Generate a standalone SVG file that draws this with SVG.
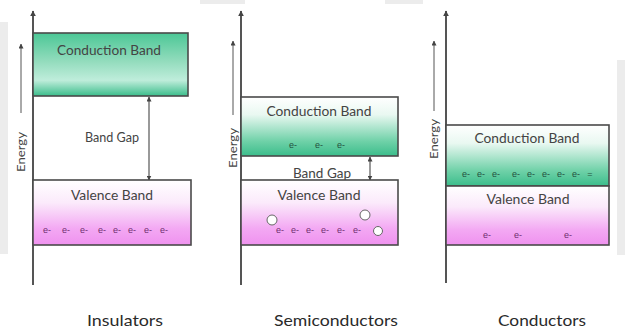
<svg xmlns="http://www.w3.org/2000/svg" width="625" height="331" viewBox="0 0 625 331">
<defs>
<linearGradient id="cb1" x1="0" y1="0" x2="0" y2="1">
<stop offset="0" stop-color="#4cc796"/>
<stop offset="0.45" stop-color="#93dcbd"/>
<stop offset="0.75" stop-color="#bfeddb"/>
<stop offset="1" stop-color="#3bbd8b"/>
</linearGradient>
<linearGradient id="cb" x1="0" y1="0" x2="0" y2="1">
<stop offset="0" stop-color="#ffffff"/>
<stop offset="0.3" stop-color="#e9f8f1"/>
<stop offset="0.75" stop-color="#6fd1a8"/>
<stop offset="1" stop-color="#3bbd8b"/>
</linearGradient>
<linearGradient id="vb" x1="0" y1="0" x2="0" y2="1">
<stop offset="0" stop-color="#ffffff"/>
<stop offset="0.35" stop-color="#fbeafb"/>
<stop offset="0.75" stop-color="#f3a8f3"/>
<stop offset="1" stop-color="#ef92ef"/>
</linearGradient>
<marker id="ah" viewBox="0 0 10 10" refX="9" refY="5" markerWidth="6" markerHeight="6" orient="auto-start-reverse" markerUnits="userSpaceOnUse">
<path d="M0,0 L10,5 L0,10 z" fill="#444"/>
</marker>
<marker id="ahs" viewBox="0 0 10 10" refX="9" refY="5" markerWidth="5" markerHeight="5" orient="auto-start-reverse" markerUnits="userSpaceOnUse">
<path d="M0,0 L10,5 L0,10 z" fill="#444"/>
</marker>
</defs>
<style>
.band{stroke:#4a4a4a;stroke-width:1.6}
.axis{stroke:#555;stroke-width:2;fill:none}
.earr{stroke:#555;stroke-width:1;fill:none}
.gap{stroke:#555;stroke-width:1.2;fill:none}
.lbl{font-family:Lato,"Open Sans","Liberation Sans",sans-serif;font-size:12.5px;fill:#444;text-anchor:middle}
.en{font-family:Lato,"Open Sans","Liberation Sans",sans-serif;font-size:12px;fill:#444;text-anchor:middle}
.title{font-family:Lato,"Open Sans","Liberation Sans",sans-serif;font-size:15px;fill:#2a2a2a;text-anchor:middle}
.ec{font-family:"Liberation Sans",sans-serif;font-size:9px;fill:#24503e;text-anchor:middle}
.ev{font-family:"Liberation Sans",sans-serif;font-size:9px;fill:#6e2f6e;text-anchor:middle}
.hole{fill:#fff;stroke:#666;stroke-width:1}
</style>
<rect width="625" height="331" fill="#ffffff"/>
<g id="watermark" fill="#ececec">
<rect x="0" y="22" width="8" height="232"/>
<rect x="617" y="60" width="8" height="195"/>
<rect x="200" y="0" width="45" height="4"/>
<rect x="385" y="0" width="38" height="4"/>
</g>
<g id="connectors">
<line class="axis" x1="33" y1="285" x2="33" y2="11" marker-end="url(#ah)"/>
<line class="axis" x1="241" y1="285" x2="241" y2="11" marker-end="url(#ah)"/>
<line class="axis" x1="446" y1="283" x2="446" y2="11" marker-end="url(#ah)"/>
<line class="earr" x1="21" y1="113" x2="21" y2="44" marker-end="url(#ahs)"/>
<line class="earr" x1="233" y1="115" x2="233" y2="41" marker-end="url(#ahs)"/>
<line class="earr" x1="434" y1="111" x2="434" y2="41" marker-end="url(#ahs)"/>
</g>
<g id="insulators">
<g id="ins-conduction">
<rect class="band" x="33" y="33" width="155" height="63" fill="url(#cb1)"/>
<text class="lbl" x="109" y="55" textLength="104" lengthAdjust="spacingAndGlyphs">Conduction Band</text>
</g>
<g id="ins-gap">
<line class="gap" x1="149" y1="97" x2="149" y2="180" marker-start="url(#ahs)" marker-end="url(#ahs)"/>
<text class="lbl" x="112" y="142" textLength="54" lengthAdjust="spacingAndGlyphs">Band Gap</text>
</g>
<g id="ins-valence">
<rect class="band" x="33" y="180" width="158" height="65" fill="url(#vb)"/>
<text class="lbl" x="112" y="200" textLength="82" lengthAdjust="spacingAndGlyphs">Valence Band</text>
<text class="ev" y="233"><tspan x="47">e-</tspan><tspan x="66">e-</tspan><tspan x="84">e-</tspan><tspan x="102">e-</tspan><tspan x="117">e-</tspan><tspan x="132">e-</tspan><tspan x="148">e-</tspan><tspan x="164">e-</tspan></text>
</g>
<text class="en" transform="translate(25,152) rotate(-90)" textLength="40" lengthAdjust="spacingAndGlyphs">Energy</text>
<text class="title" x="125" y="326" textLength="76" lengthAdjust="spacingAndGlyphs">Insulators</text>
</g>
<g id="semiconductors">
<g id="semi-conduction">
<rect class="band" x="241" y="97" width="157" height="59" fill="url(#cb)"/>
<text class="lbl" x="319" y="116" textLength="105" lengthAdjust="spacingAndGlyphs">Conduction Band</text>
<text class="ec" y="148"><tspan x="293">e-</tspan><tspan x="319">e-</tspan><tspan x="341">e-</tspan></text>
</g>
<g id="semi-gap">
<line class="gap" x1="370" y1="157" x2="370" y2="180" marker-start="url(#ahs)" marker-end="url(#ahs)"/>
<text class="lbl" x="322" y="178" textLength="58" lengthAdjust="spacingAndGlyphs">Band Gap</text>
</g>
<g id="semi-valence">
<rect class="band" x="241" y="180" width="157" height="65" fill="url(#vb)"/>
<text class="lbl" x="319" y="200" textLength="83" lengthAdjust="spacingAndGlyphs">Valence Band</text>
<circle class="hole" cx="272" cy="220" r="5"/>
<circle class="hole" cx="365" cy="215" r="5"/>
<circle class="hole" cx="378" cy="231" r="4.5"/>
<text class="ev" y="233"><tspan x="280">e-</tspan><tspan x="295">e-</tspan><tspan x="310">e-</tspan><tspan x="325">e-</tspan><tspan x="341">e-</tspan><tspan x="357">e-</tspan></text>
</g>
<text class="en" transform="translate(237,148) rotate(-90)" textLength="40" lengthAdjust="spacingAndGlyphs">Energy</text>
<text class="title" x="336" y="326" textLength="124" lengthAdjust="spacingAndGlyphs">Semiconductors</text>
</g>
<g id="conductors">
<g id="cond-conduction">
<rect class="band" x="446" y="125" width="163" height="61" fill="url(#cb)"/>
<text class="lbl" x="527" y="143" textLength="105" lengthAdjust="spacingAndGlyphs">Conduction Band</text>
<text class="ec" y="177"><tspan x="466">e-</tspan><tspan x="481">e-</tspan><tspan x="496">e-</tspan><tspan x="516">e-</tspan><tspan x="531">e-</tspan><tspan x="546">e-</tspan><tspan x="561">e-</tspan><tspan x="576">e-</tspan><tspan x="590">=</tspan></text>
</g>
<g id="cond-valence">
<rect class="band" x="446" y="186" width="163" height="59" fill="url(#vb)"/>
<text class="lbl" x="528" y="204" textLength="83" lengthAdjust="spacingAndGlyphs">Valence Band</text>
<text class="ev" y="238"><tspan x="487">e-</tspan><tspan x="518">e-</tspan><tspan x="568">e-</tspan></text>
</g>
<text class="en" transform="translate(438,139) rotate(-90)" textLength="40" lengthAdjust="spacingAndGlyphs">Energy</text>
<text class="title" x="542" y="326" textLength="88" lengthAdjust="spacingAndGlyphs">Conductors</text>
</g>
</svg>
